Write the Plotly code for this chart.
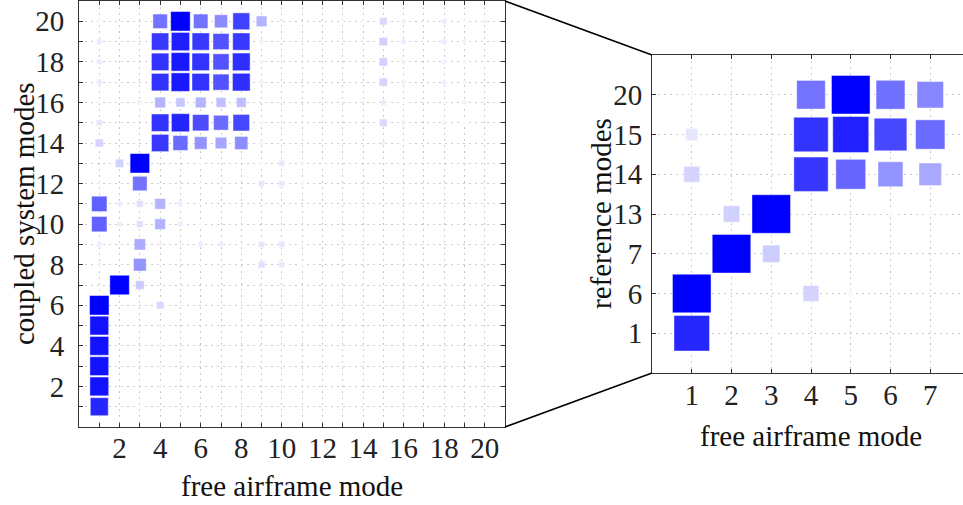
import numpy as np
import plotly.graph_objects as go

W, H = 963, 505

# ---------------- data: left MAC matrix (rows = coupled system modes 1..20, cols = free airframe modes 1..20)
r01 = [0.85, 0, 0.01, 0.01, 0, 0, 0, 0, 0, 0, 0, 0, 0, 0, 0, 0, 0, 0, 0, 0]
r02 = [0.93, 0, 0, 0.04, 0, 0, 0, 0, 0, 0, 0, 0, 0, 0, 0, 0, 0, 0, 0, 0]
r03 = [0.93, 0, 0, 0.04, 0, 0, 0, 0, 0, 0, 0, 0, 0, 0, 0, 0, 0, 0, 0, 0]
r04 = [0.93, 0, 0, 0.04, 0, 0, 0, 0, 0, 0, 0, 0, 0, 0, 0, 0, 0, 0, 0, 0]
r05 = [0.93, 0, 0, 0.04, 0, 0, 0, 0, 0, 0, 0, 0, 0, 0, 0, 0, 0, 0, 0, 0]
r06 = [1.00, 0, 0, 0.15, 0.02, 0, 0, 0, 0, 0, 0, 0, 0, 0, 0, 0, 0, 0, 0, 0]
r07 = [0, 1.00, 0.20, 0, 0, 0, 0, 0, 0, 0, 0, 0, 0, 0, 0, 0, 0, 0, 0, 0]
r08 = [0.05, 0, 0.42, 0.01, 0, 0.005, 0.005, 0, 0.12, 0.09, 0.02, 0, 0, 0, 0, 0, 0, 0, 0, 0]
r09 = [0.07, 0.02, 0.33, 0.05, 0.01, 0.07, 0.07, 0.01, 0.10, 0.10, 0.03, 0, 0, 0, 0, 0, 0, 0, 0, 0]
r10 = [0.62, 0.07, 0.12, 0.30, 0.07, 0.01, 0, 0, 0, 0, 0, 0, 0, 0, 0, 0, 0, 0, 0, 0]
r11 = [0.62, 0.07, 0.12, 0.30, 0.07, 0.01, 0.005, 0, 0, 0, 0, 0, 0, 0, 0, 0, 0, 0, 0, 0]
r12 = [0.01, 0, 0.55, 0, 0, 0.01, 0.01, 0, 0.10, 0.09, 0.04, 0, 0, 0, 0, 0, 0, 0, 0, 0]
r13 = [0, 0.18, 1.00, 0, 0, 0.01, 0, 0, 0.03, 0.09, 0.05, 0.01, 0, 0, 0, 0, 0, 0, 0, 0]
r14 = [0.17, 0, 0, 0.78, 0.58, 0.42, 0.35, 0.45, 0.04, 0, 0, 0, 0, 0, 0.06, 0.02, 0, 0, 0, 0]
r15 = [0.10, 0, 0, 0.80, 0.86, 0.70, 0.58, 0.72, 0.04, 0, 0, 0, 0, 0, 0.15, 0.06, 0, 0.05, 0.02, 0]
r16 = [0.01, 0, 0.06, 0.30, 0.22, 0.30, 0.25, 0.25, 0, 0, 0, 0, 0, 0, 0.08, 0.02, 0, 0.02, 0.06, 0]
r17 = [0.08, 0, 0, 0.80, 0.90, 0.80, 0.68, 0.82, 0.05, 0, 0, 0, 0, 0, 0.17, 0.06, 0, 0.06, 0.04, 0]
r18 = [0.08, 0, 0, 0.80, 0.90, 0.80, 0.68, 0.82, 0.05, 0, 0, 0, 0, 0, 0.18, 0.06, 0, 0.06, 0.04, 0.01]
r19 = [0.08, 0, 0, 0.78, 0.88, 0.78, 0.68, 0.78, 0.05, 0, 0, 0, 0, 0, 0.18, 0.07, 0, 0.07, 0.05, 0.01]
r20 = [0.02, 0, 0, 0.55, 1.00, 0.55, 0.45, 0.75, 0.30, 0, 0, 0, 0.01, 0.01, 0.15, 0.06, 0, 0.07, 0.02, 0.05]
mac_left = [r01, r02, r03, r04, r05, r06, r07, r08, r09, r10,
            r11, r12, r13, r14, r15, r16, r17, r18, r19, r20]
left_modes = list(range(1, 21))
left_ticklabels = [str(m) if m % 2 == 0 else "" for m in left_modes]

# ---------------- data: right MAC matrix (rows = reference modes, cols = free airframe modes 1..7)
ref_labels = ["1", "6", "7", "13", "14", "15", "20"]
q01 = [0.85, 0, 0.01, 0, 0, 0, 0]
q06 = [1.00, 0, 0, 0.17, 0.02, 0.01, 0.005]
q07 = [0, 1.00, 0.20, 0, 0, 0, 0]
q13 = [0, 0.18, 1.00, 0, 0, 0.02, 0.01]
q14 = [0.17, 0, 0, 0.79, 0.60, 0.42, 0.34]
q15 = [0.10, 0, 0, 0.80, 0.87, 0.72, 0.58]
q20 = [0.02, 0, 0, 0.55, 1.00, 0.56, 0.47]
mac_right = [q01, q06, q07, q13, q14, q15, q20]
right_modes = list(range(1, 8))

# ---------------- layout geometry (pixels)
L_x0, L_x1, L_y0, L_y1 = 79, 505, 1, 427      # left plot box
R_x0, R_y0, R_y1 = 652, 55, 373               # right plot box (extends beyond the right edge)
R_cell = (R_y1 - R_y0) / 8.0
R_xmax = (W - R_x0) / R_cell

def px(x):
    return x / W

def py(y):
    return 1 - y / H

SERIF = "Liberation Serif"
AXC = "#333333"
BLUE_SCALE = [[0, "rgb(255,255,255)"], [1, "rgb(0,0,255)"]]

def mac_trace(mat, xs, ys, smax, xa, ya):
    X, Y, V = [], [], []
    for i, row in enumerate(mat):
        for j, v in enumerate(row):
            if v > 0:
                X.append(xs[j]); Y.append(ys[i]); V.append(v)
    V = np.array(V)
    order = np.argsort(V)
    X = np.array(X)[order]; Y = np.array(Y)[order]; V = V[order]
    return go.Scatter(
        x=X, y=Y, mode="markers", xaxis=xa, yaxis=ya, showlegend=False,
        hoverinfo="x+y+text", text=[f"{v:.2f}" for v in V],
        marker=dict(symbol="square", size=smax * np.sqrt(V), color=V, opacity=1,
                    colorscale=BLUE_SCALE, cmin=0, cmax=1,
                    line=dict(width=0.8, color="rgba(255,255,255,0.55)")),
    )

fig = go.Figure()
L_cell = (L_x1 - L_x0) / 21.0
fig.add_trace(mac_trace(mac_left, left_modes, left_modes, 0.96 * L_cell, "x", "y"))
fig.add_trace(mac_trace(mac_right, right_modes, list(range(1, 8)), 0.97 * R_cell, "x2", "y2"))

axis_common = dict(showline=True, linecolor=AXC, linewidth=1, ticks="inside", ticklen=4,
                   tickcolor=AXC, tickwidth=1, showgrid=True, gridcolor="#cccccc",
                   griddash="2px,4px", gridwidth=1, zeroline=False,
                   tickfont=dict(family=SERIF, size=29, color="#222222"))

fig.update_layout(
    width=W, height=H, margin=dict(l=0, r=0, t=0, b=0),
    paper_bgcolor="white", plot_bgcolor="white",
    font=dict(family=SERIF),
    xaxis=dict(domain=[px(L_x0), px(L_x1)], range=[0, 21], tickmode="array",
               tickvals=left_modes, ticktext=left_ticklabels, mirror="ticks",
               anchor="y", ticklabelstandoff=-5, **axis_common),
    yaxis=dict(domain=[py(L_y1), py(L_y0)], range=[0, 21], tickmode="array",
               tickvals=left_modes, ticktext=left_ticklabels, mirror="ticks",
               anchor="x", ticklabelstandoff=8, **axis_common),
    xaxis2=dict(domain=[px(R_x0), 1.0], range=[0, R_xmax], tickmode="array",
                tickvals=right_modes, ticktext=[str(m) for m in right_modes],
                mirror="ticks", anchor="y2", ticklabelstandoff=-4, **axis_common),
    yaxis2=dict(domain=[py(R_y1), py(R_y0)], range=[0, 8], tickmode="array",
                tickvals=list(range(1, 8)), ticktext=ref_labels, mirror=False,
                anchor="x2", ticklabelstandoff=3, **axis_common),
)

tfont = dict(family=SERIF, size=29, color="#111111")
fig.add_annotation(text="free airframe mode", x=px((L_x0 + L_x1) / 2), y=py(486),
                   xref="paper", yref="paper", showarrow=False, font=tfont,
                   xanchor="center", yanchor="middle")
fig.add_annotation(text="coupled system modes", x=px(24), y=py((L_y0 + L_y1) / 2),
                   xref="paper", yref="paper", showarrow=False, font=tfont, textangle=-90,
                   xanchor="center", yanchor="middle")
fig.add_annotation(text="reference modes", x=px(601), y=py((R_y0 + R_y1) / 2),
                   xref="paper", yref="paper", showarrow=False, font=tfont, textangle=-90,
                   xanchor="center", yanchor="middle")
fig.add_annotation(text="free airframe mode", x=px(R_x0 + 4 * R_cell), y=py(436),
                   xref="paper", yref="paper", showarrow=False, font=tfont,
                   xanchor="center", yanchor="middle")

# connector lines between the two panels
for (xa, ya, xb, yb) in [(L_x1, L_y0, R_x0, R_y0), (L_x1, L_y1, R_x0, R_y1)]:
    fig.add_shape(type="line", xref="paper", yref="paper",
                  x0=px(xa), y0=py(ya), x1=px(xb), y1=py(yb),
                  line=dict(color="black", width=1.5))

fig.write_html("out.html", config={"displayModeBar": False},
               post_script="document.body.style.margin='0';document.body.style.overflow='hidden';")
